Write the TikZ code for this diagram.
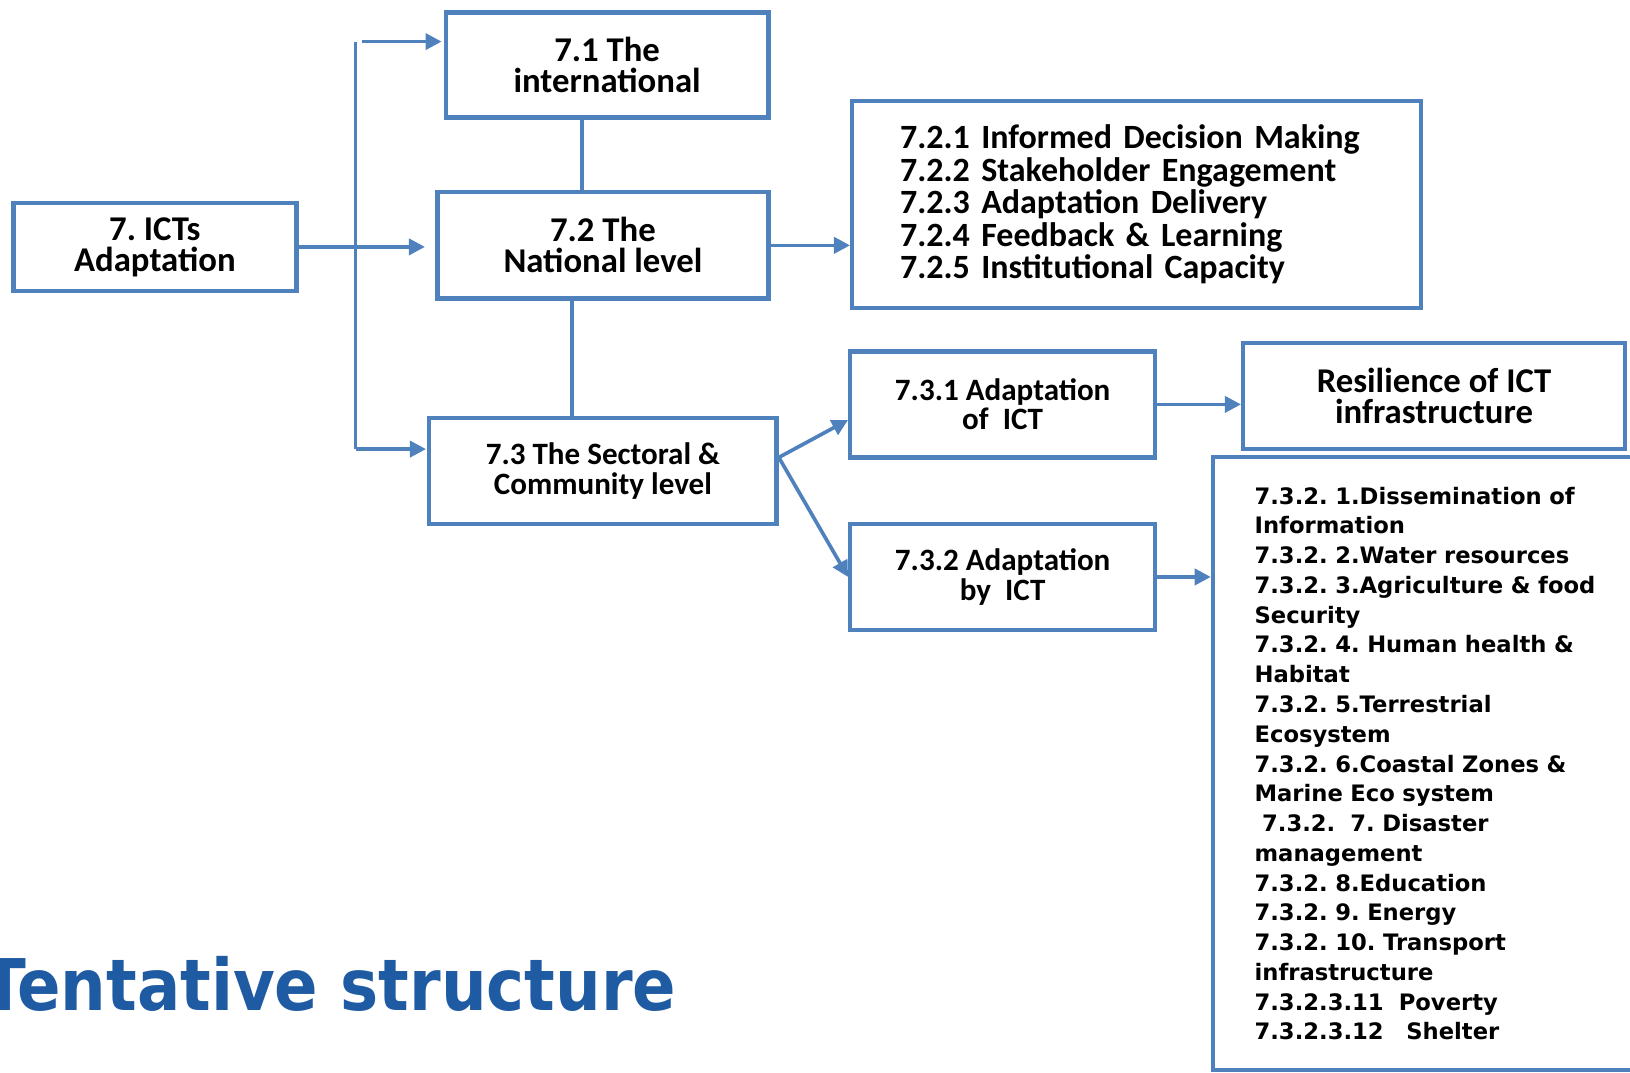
\documentclass[tikz,border=0pt]{standalone}
\usepackage{fontspec}
\usepackage{graphicx}
\setmainfont{Carlito}
\newfontfamily\listfont{DejaVu Sans}
\usetikzlibrary{arrows.meta}

\definecolor{boxblue}{HTML}{4F81BD}
\definecolor{titleblue}{HTML}{1F5BA3}

\tikzset{
  box/.style={draw=boxblue, line width=1.2pt, align=center, inner sep=0pt,
    font=\frenchspacing\bfseries\fontsize{9.5}{8.5}\selectfont},
  lowbox/.style={box, font=\frenchspacing\bfseries\fontsize{8.5}{8}\selectfont},
  link/.style={draw=boxblue, line width=1pt},
  arr/.style={link, -{Triangle[length=4.4pt,width=4.4pt]}},
}

\begin{document}
\begin{tikzpicture}[x=0.01cm, y=-0.01cm]
\useasboundingbox (0,0) rectangle (1568,1032);

% Boxes
\node[box, minimum width=2.72cm, minimum height=0.85cm] (ict) at (149,237.5) {7. ICTs\\Adaptation};
\node[box, minimum width=3.10cm, minimum height=1.01cm] (intl) at (584,62.5) {7.1 The\\international};
\node[box, minimum width=3.18cm, minimum height=1.02cm] (natl) at (580,236) {7.2 The\\National level};
\node[lowbox, minimum width=3.34cm, minimum height=1.02cm] (sect) at (580,453) {7.3 The Sectoral \&\\Community level};

\node[box, align=left, text width=4.55cm, inner xsep=0.46cm, minimum height=1.99cm,
  font=\frenchspacing\bfseries\fontsize{9.3}{8.9}\selectfont] (natlist) at (1093.5,196.5)
  {7.2.1 Informed Decision Making\\7.2.2 Stakeholder Engagement\\7.2.3 Adaptation Delivery\\7.2.4 Feedback \& Learning\\7.2.5 Institutional Capacity};

\node[lowbox, minimum width=2.93cm, minimum height=1.02cm] (adof) at (964.5,389) {7.3.1 Adaptation\\of\ \ ICT};
\node[lowbox, minimum width=2.93cm, minimum height=1.02cm] (adby) at (964.5,555) {7.3.2 Adaptation\\by\ \ ICT};
\node[box, minimum width=3.67cm, minimum height=1.02cm] (resil) at (1379.5,381) {Resilience of ICT\\infrastructure};

\node[box, align=left, text width=4cm, inner xsep=0.4cm, minimum height=5.89cm,
  font=\listfont\frenchspacing\bfseries\fontsize{6.2}{8.14}\selectfont] (seclist) at (1407,734.5)
  {7.3.2. 1.Dissemination of\\Information\\7.3.2. 2.Water resources\\7.3.2. 3.Agriculture \& food\\Security\\
   7.3.2. 4. Human health \&\\Habitat\\7.3.2. 5.Terrestrial\\Ecosystem\\7.3.2. 6.Coastal Zones \&\\
   Marine Eco system\\\ 7.3.2.\ \ 7. Disaster\\management\\7.3.2. 8.Education\\7.3.2. 9.\ Energy\\
   7.3.2. 10. Transport\\infrastructure\\7.3.2.3.11\ \ Poverty\\7.3.2.3.12\ \ \ Shelter};

% Bus on the left
\coordinate (bt) at (342,40);
\coordinate (bb) at (342,432);
\draw[link] (bt) -- (bb);
\draw[arr] ([xshift=0.06cm]bt) -- ([xshift=-0.02cm]bt -| intl.west);
\draw[arr] (bb) -- ([xshift=-0.01cm]bb -| sect.west);
\draw[arr, shorten >=0.1cm] (ict.east) -- (ict.east -| natl.west);

% Vertical links
\draw[link] ([xshift=-0.24cm]intl.south) -- ([xshift=-0.24cm]intl.south |- natl.north);
\draw[link] ([xshift=-0.30cm]natl.south) -- ([xshift=-0.30cm]natl.south |- sect.north);

% Right side
\draw[arr] (natl.east) -- (natl.east -| natlist.west);
\draw[arr] ([yshift=0.13cm]sect.east) -- ([yshift=-0.15cm]adof.west);
\draw[arr] ([yshift=0.13cm]sect.east) -- (adby.west);
\draw[arr] (adof.east) -- (adof.east -| resil.west);
\draw[arr] (adby.east) -- (adby.east -| seclist.west);

% Title
\node[anchor=base west, inner sep=0pt, text=titleblue,
  font=\listfont\bfseries\fontsize{19.5}{20}\selectfont] (title) at (-18,972)
  {\scalebox{0.9}[1]{Tentative structure}};
\end{tikzpicture}
\end{document}
